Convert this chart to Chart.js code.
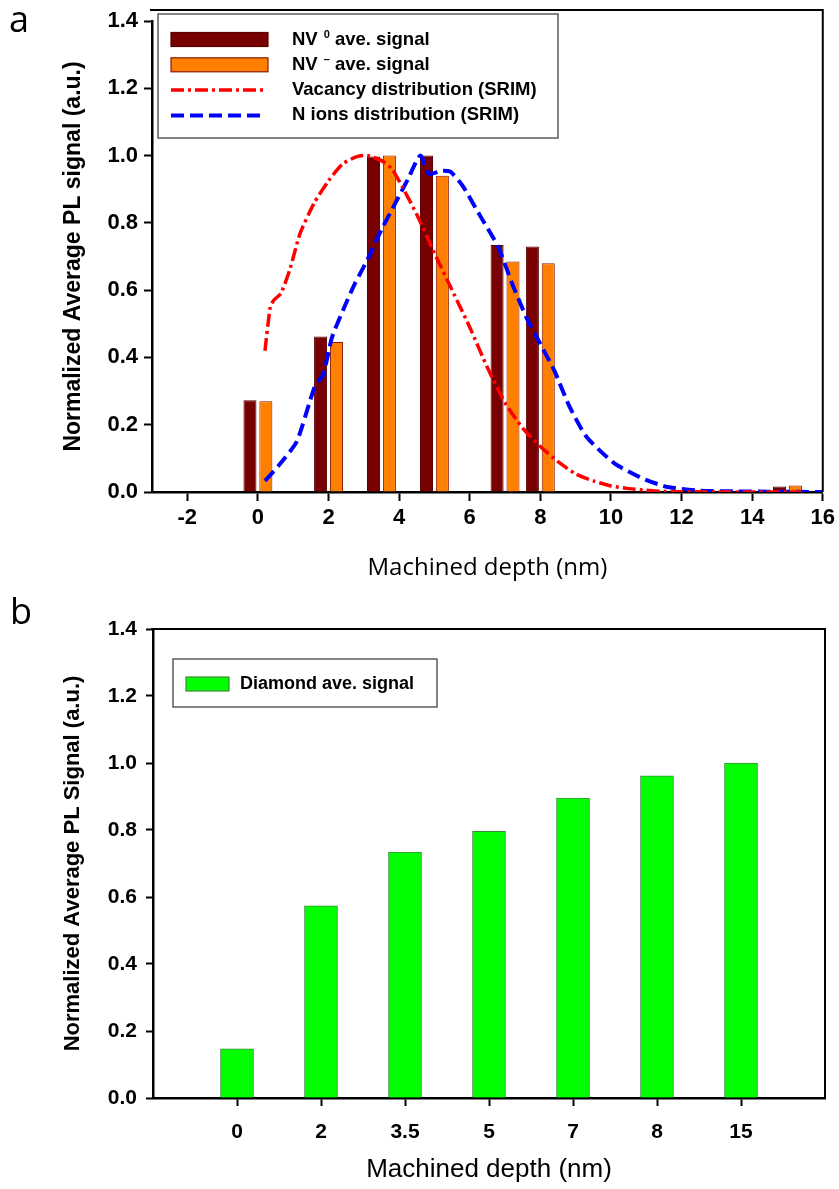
<!DOCTYPE html>
<html>
<head>
<meta charset="utf-8">
<script src="https://cdn.jsdelivr.net/npm/chart.js@4.4.1/dist/chart.umd.min.js"></script>
<style>
body { margin: 0; background: #fff; width: 839px; height: 1189px; position: relative; overflow: hidden; }
.panel_label { position: absolute; font-family: 'Open Sans', sans-serif; font-size: 36px; line-height: 1; color: #000; }
#wrap_a { position: absolute; left: 0; top: 0; }
#wrap_b { position: absolute; left: 0; top: 600px; }
</style>
</head>
<body>
<div id="wrap_a"><canvas id="chart_a" width="839" height="600"></canvas></div>
<div id="wrap_b"><canvas id="chart_b" width="839" height="589"></canvas></div>
<div class="panel_label" style="left:9px;top:1px">a</div>
<div class="panel_label" style="left:10px;top:593px">b</div>
<script>
// panel a : bars per machined depth + SRIM curves
const depth_a      = [0, 2, 3.5, 5, 7, 8, 15]
const nv0_signal   = [0.273, 0.462, 0.997, 1.0, 0.734, 0.730, 0.016]
const nvm_signal   = [0.270, 0.446, 1.0, 0.940, 0.685, 0.680, 0.019]

const vacancy_depth = [0.2, 0.35, 0.45, 0.65, 0.9, 1.2, 1.6, 2.0, 2.4, 2.8, 3.1, 3.5, 3.8, 4.1, 4.5, 5.0, 5.5, 6.0, 6.5, 7.0, 7.5, 8.0, 8.5, 9.0, 9.5, 10.0, 10.5, 11.0, 11.5, 12.0, 13.0, 14.0, 15.4]
const vacancy_value = [0.42, 0.55, 0.57, 0.59, 0.66, 0.77, 0.86, 0.925, 0.975, 0.997, 1.0, 0.985, 0.96, 0.905, 0.825, 0.71, 0.60, 0.49, 0.37, 0.265, 0.19, 0.135, 0.09, 0.054, 0.033, 0.018, 0.010, 0.005, 0.002, 0.001, 0, 0, 0]

const n_ions_depth = [0.2, 0.6, 1.1, 1.6, 1.85, 2.1, 2.45, 2.75, 3.1, 3.5, 3.9, 4.25, 4.6, 4.85, 5.2, 5.45, 5.8, 6.3, 6.8, 7.2, 7.6, 8.0, 8.4, 8.8, 9.3, 10.1, 10.9, 11.6, 12.5, 13.5, 14.5, 16]
const n_ions_value = [0.033, 0.08, 0.15, 0.31, 0.35, 0.46, 0.55, 0.62, 0.69, 0.78, 0.86, 0.93, 1.0, 0.945, 0.955, 0.952, 0.91, 0.82, 0.73, 0.62, 0.52, 0.44, 0.36, 0.26, 0.165, 0.085, 0.04, 0.015, 0.004, 0.002, 0.001, 0]

const x_ticks_a = [-2, 0, 2, 4, 6, 8, 10, 12, 14, 16]
const y_ticks   = [0, 0.2, 0.4, 0.6, 0.8, 1.0, 1.2, 1.4]
const legend_labels_a = [['NV', '0', ' ave. signal'], ['NV', '\u2013', ' ave. signal'], ['Vacancy distribution (SRIM)'], ['N ions distribution (SRIM)']]

// panel b : diamond signal
const depth_b_labels = ['0', '2', '3.5', '5', '7', '8', '15']
const diamond_signal = [0.147, 0.574, 0.734, 0.796, 0.895, 0.962, 1.0]
const legend_labels_b = [['Diamond ave. signal']]

const font_family = '"Liberation Sans", Arial, sans-serif'

const box_legend_plugin = {
  id: 'box_legend',
  afterDraw(chart, args, opts) {
    const ctx = chart.ctx
    ctx.save()
    ctx.strokeStyle = '#444'
    ctx.lineWidth = 1.3
    ctx.strokeRect(opts.left, opts.top, opts.width, opts.height)
    opts.labels.forEach((parts, i) => {
      const ds = chart.data.datasets[i]
      const y = opts.row_y + i * opts.row_gap
      const x0 = opts.sample_x
      if (ds.type === 'line') {
        ctx.strokeStyle = ds.borderColor
        ctx.lineWidth = ds.borderWidth
        ctx.setLineDash(ds.borderDash || [])
        ctx.beginPath()
        ctx.moveTo(x0, y)
        ctx.lineTo(x0 + opts.line_w, y)
        ctx.stroke()
        ctx.setLineDash([])
      } else {
        ctx.fillStyle = ds.backgroundColor
        ctx.fillRect(x0, y - opts.box_h / 2, opts.sample_w, opts.box_h)
        ctx.strokeStyle = ds.borderColor
        ctx.lineWidth = 1.2
        ctx.strokeRect(x0, y - opts.box_h / 2, opts.sample_w, opts.box_h)
      }
      const main_font = `bold ${opts.font_size}px ${font_family}`
      ctx.fillStyle = '#000'
      ctx.textAlign = 'left'
      ctx.textBaseline = 'middle'
      ctx.font = main_font
      let tx = opts.text_x
      ctx.fillText(parts[0], tx, y)
      if (parts.length > 1) {
        tx += ctx.measureText(parts[0]).width + 6
        ctx.font = `bold 11px ${font_family}`
        ctx.fillText(parts[1], tx, y - 5)
        tx += ctx.measureText(parts[1]).width
        ctx.font = main_font
        ctx.fillText(parts[2], tx, y)
      }
    })
    ctx.restore()
  }
}

// top + right frame lines
const frame_plugin = {
  id: 'frame',
  afterDraw(chart, args, opts) {
    const {ctx, chartArea} = chart
    const top = chartArea.top - (opts.raise || 0)
    ctx.save()
    ctx.strokeStyle = '#000'
    ctx.lineWidth = 2
    ctx.beginPath()
    ctx.moveTo(chartArea.left - 2, top)
    ctx.lineTo(chartArea.right, top)
    ctx.lineTo(chartArea.right, chartArea.bottom)
    ctx.stroke()
    ctx.restore()
  }
}

function axis_common(tick_len, pad, size) {
  return {
    grid: {display: true, offset: false, drawOnChartArea: false, drawTicks: true, tickLength: tick_len, tickColor: '#000', tickWidth: 2},
    border: {display: true, color: '#000', width: 2.5},
    ticks: {color: '#000', padding: pad, autoSkip: false, maxRotation: 0, font: {family: font_family, size: size, weight: 'bold'}}
  }
}

const x_a = axis_common(9, 4, 22)
x_a.ticks.callback = (v) => String(v)
const y_a = axis_common(8, 6, 22)
y_a.ticks.callback = (v) => v.toFixed(1)

new Chart(document.getElementById('chart_a'), {
  type: 'bar',
  data: {
    datasets: [
      {
        label: 'NV0 ave. signal',
        data: depth_a.map((d, i) => ({x: d, y: nv0_signal[i]})),
        backgroundColor: '#780000',
        borderColor: '#5a0000',
        borderWidth: 1,
        categoryPercentage: 0.9,
        barPercentage: 0.82,
        order: 1
      },
      {
        label: 'NV- ave. signal',
        data: depth_a.map((d, i) => ({x: d, y: nvm_signal[i]})),
        backgroundColor: '#ff8000',
        borderColor: '#8b1a00',
        borderWidth: 1,
        categoryPercentage: 0.9,
        barPercentage: 0.82,
        order: 1
      },
      {
        type: 'line',
        label: 'Vacancy distribution (SRIM)',
        data: vacancy_depth.map((d, i) => ({x: d, y: vacancy_value[i]})),
        borderColor: '#ff0000',
        borderWidth: 3.5,
        borderDash: [13, 4, 3, 4],
        pointRadius: 0,
        tension: 0.2,
        order: 0
      },
      {
        type: 'line',
        label: 'N ions distribution (SRIM)',
        data: n_ions_depth.map((d, i) => ({x: d, y: n_ions_value[i]})),
        borderColor: '#0000ff',
        borderWidth: 4,
        borderDash: [13, 6],
        pointRadius: 0,
        tension: 0.2,
        order: 0
      }
    ]
  },
  options: {
    responsive: false,
    animation: false,
    layout: {padding: {left: 0, right: 15, top: 21, bottom: 0}},
    plugins: {
      legend: {display: false},
      tooltip: {enabled: false},
      frame: {raise: 11},
      box_legend: {
        labels: legend_labels_a,
        left: 158, top: 14, width: 400, height: 124,
        row_y: 39.5, row_gap: 25.3,
        sample_x: 171, sample_w: 97, line_w: 93, box_h: 14,
        text_x: 292, font_size: 18.5
      }
    },
    scales: {
      x: Object.assign(x_a, {
        type: 'linear', min: -3, max: 16, offset: false,
        afterBuildTicks: (s) => { s.ticks = x_ticks_a.map(v => ({value: v})) },
        afterFit: (s) => { s.height = 108 },
        title: {display: true, text: 'Machined depth (nm)', color: '#000', font: {family: '"Open Sans", sans-serif', size: 24}, padding: {top: 0, bottom: 17}}
      }),
      y: Object.assign(y_a, {
        min: 0, max: 1.4,
        afterBuildTicks: (s) => { s.ticks = y_ticks.map(v => ({value: v})) },
        afterFit: (s) => { s.width = 152 },
        title: {display: true, text: 'Normalized Average PL signal (a.u.)', color: '#000', font: {family: font_family, size: 23, weight: 'bold'}, padding: {top: 60, bottom: 0}}
      })
    }
  },
  plugins: [box_legend_plugin, frame_plugin]
})

const x_b = axis_common(8, 14, 21)
x_b.ticks.callback = (v, i) => depth_b_labels[i]
const y_b = axis_common(7, 9, 21)
y_b.ticks.callback = (v) => v.toFixed(1)

new Chart(document.getElementById('chart_b'), {
  type: 'bar',
  data: {
    datasets: [
      {
        label: 'Diamond ave. signal',
        data: depth_b_labels.map((l, i) => ({x: i + 1, y: diamond_signal[i]})),
        backgroundColor: '#00ff00',
        borderColor: '#3a8a3a',
        borderWidth: 1,
        barThickness: 33
      }
    ]
  },
  options: {
    responsive: false,
    animation: false,
    layout: {padding: {left: 0, right: 14, top: 29, bottom: 0}},
    plugins: {
      legend: {display: false},
      tooltip: {enabled: false},
      frame: {raise: 0},
      box_legend: {
        labels: legend_labels_b,
        left: 173, top: 59, width: 264, height: 48,
        row_y: 84, row_gap: 25,
        sample_x: 186, sample_w: 43, line_w: 43, box_h: 14,
        text_x: 240, font_size: 18
      }
    },
    scales: {
      x: Object.assign(x_b, {
        type: 'linear', min: 0, max: 8, offset: false,
        afterBuildTicks: (s) => { s.ticks = depth_b_labels.map((l, i) => ({value: i + 1})) },
        afterFit: (s) => { s.height = 91 },
        title: {display: true, text: 'Machined depth (nm)', color: '#000', font: {family: font_family, size: 26}, padding: {top: 0, bottom: 4}}
      }),
      y: Object.assign(y_b, {
        min: 0, max: 1.4,
        afterBuildTicks: (s) => { s.ticks = y_ticks.map(v => ({value: v})) },
        afterFit: (s) => { s.width = 153 },
        title: {display: true, text: 'Normalized Average PL Signal (a.u.)', color: '#000', font: {family: font_family, size: 22, weight: 'bold'}, padding: {top: 60, bottom: 0}}
      })
    }
  },
  plugins: [box_legend_plugin, frame_plugin]
})
</script>
</body>
</html>
